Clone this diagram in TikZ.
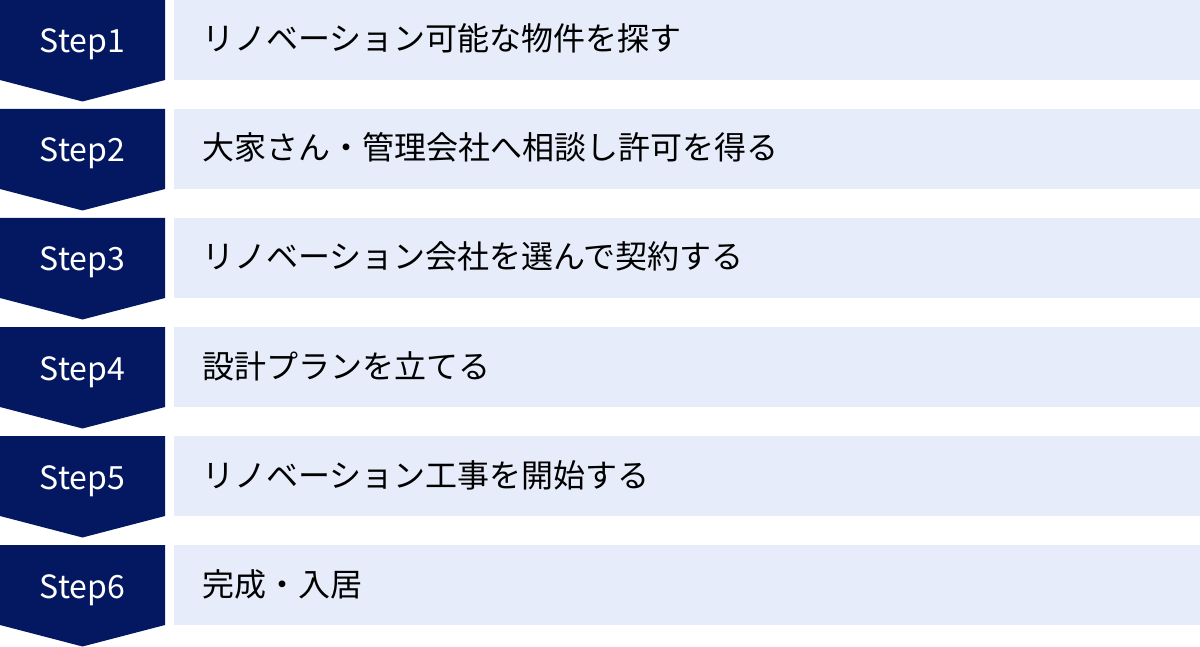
\documentclass[tikz,border=0pt]{standalone}
\usepackage{fontspec}
\setmainfont{Noto Sans CJK JP}
\newfontfamily\jpfont{Noto Sans CJK JP}
\definecolor{navy}{HTML}{041862}
\definecolor{pale}{HTML}{E6ECF9}
\begin{document}
\begin{tikzpicture}[x=1pt,y=-1pt,
  stepshape/.style={fill=navy,draw=none},
  barbox/.style={fill=pale,draw=none},
  steplabel/.style={text=white,font=\jpfont\fontsize{32}{36}\selectfont,anchor=base,inner sep=0pt},
  bartext/.style={text=black,font=\jpfont\fontsize{32}{36}\selectfont,anchor=base west,inner sep=0pt}]
\useasboundingbox (0,0) rectangle (1200,647);
\foreach \i/\t in {1/リノベーション可能な物件を探す,
                   2/大家さん・管理会社へ相談し許可を得る,
                   3/リノベーション会社を選んで契約する,
                   4/設計プランを立てる,
                   5/リノベーション工事を開始する,
                   6/完成・入居}{
  \pgfmathsetmacro{\y}{(\i-1)*109}
  \fill[stepshape] (0,\y) -- (165,\y) -- (165,\y+80) -- (82.5,\y+101.5) -- (0,\y+80) -- cycle;
  \fill[barbox] (174,\y) rectangle (1200,\y+80);
  \node[steplabel] (s\i) at (82.5,\y+53) {Step\i};
  \node[bartext] (t\i) at (202,\y+51) {\t};
}
\end{tikzpicture}
\end{document}
